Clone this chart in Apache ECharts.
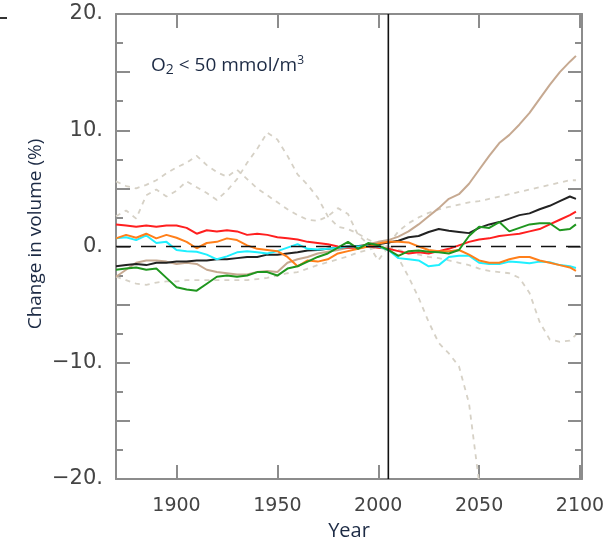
<!DOCTYPE html>
<html>
<head>
<meta charset="utf-8">
<script src="https://cdn.jsdelivr.net/npm/echarts@6/dist/echarts.min.js"></script>
<style>
  html, body { margin: 0; padding: 0; background: #fff; }
  #main { width: 609px; height: 540px; }
</style>
</head>
<body>
<div id="main"></div>
<script>
// Years of the sampled series (historical part ends 2005, projections run on to 2098)
const YEARS = [1870,1875,1880,1885,1890,1895,1900,1905,1910,1915,
               1920,1925,1930,1935,1940,1945,1950,1955,1960,1965,
               1970,1975,1980,1985,1990,1995,2000,2005,
               2010,2015,2020,2025,2030,2035,2040,2045,2050,2055,
               2060,2065,2070,2075,2080,2085,2090,2095,2098];
const HIST_YEARS = YEARS.slice(0, 28);    // 1870 … 2005
const FUTURE_YEARS = YEARS.slice(27);     // 2005 … 2098

// Change in volume (%) of waters with O2 < 50 mmol/m3, per model
const red = [1.9,1.8,1.7,1.8,1.7,1.8,1.8,1.6,1.1,1.4,
             1.3,1.4,1.3,1.0,1.1,1.0,0.8,0.7,0.6,0.4,
             0.3,0.2,0.0,-0.1,-0.1,0.0,-0.1,-0.2,
             -0.4,-0.6,-0.5,-0.6,-0.4,-0.2,0.1,0.4,0.6,0.7,
             0.9,1.0,1.1,1.3,1.5,1.9,2.3,2.7,3.0];
const black = [-1.7,-1.6,-1.5,-1.6,-1.4,-1.4,-1.3,-1.3,-1.2,-1.2,
               -1.1,-1.1,-1.0,-0.9,-0.9,-0.7,-0.7,-0.6,-0.5,-0.35,
               -0.3,-0.2,-0.1,0.0,0.05,0.1,0.2,0.35,
               0.5,0.8,0.9,1.25,1.5,1.35,1.25,1.15,1.6,1.9,
               2.1,2.4,2.7,2.85,3.2,3.5,3.9,4.3,4.1];
const tan = [-2.6,-2.0,-1.4,-1.2,-1.2,-1.3,-1.5,-1.4,-1.5,-2.0,
             -2.2,-2.3,-2.4,-2.4,-2.2,-2.1,-2.2,-1.4,-1.1,-0.9,
             -0.6,-0.45,-0.3,-0.1,0.0,0.2,0.4,0.55,
             0.85,1.3,1.9,2.6,3.3,4.1,4.5,5.4,6.6,7.8,
             8.9,9.6,10.5,11.5,12.7,13.9,15.0,15.9,16.4];
const cyan = [0.7,0.8,0.55,0.95,0.3,0.4,-0.3,-0.4,-0.45,-0.7,
              -1.1,-0.85,-0.5,-0.4,-0.5,-0.6,-0.4,-0.1,0.2,-0.2,
              -0.25,-0.2,-0.1,0.0,0.0,0.05,0.0,-0.3,
              -1.0,-1.1,-1.2,-1.7,-1.6,-0.9,-0.8,-0.8,-1.4,-1.5,
              -1.5,-1.3,-1.35,-1.45,-1.3,-1.35,-1.6,-1.7,-1.85];
const orange = [0.7,1.0,0.75,1.1,0.7,1.0,0.75,0.4,-0.15,0.3,
                0.4,0.7,0.55,0.1,-0.2,-0.3,-0.4,-0.9,-1.7,-1.2,
                -1.3,-1.1,-0.6,-0.4,-0.2,0.0,0.25,0.4,
                0.4,0.35,0.0,-0.3,-0.4,-0.4,-0.3,-0.7,-1.2,-1.4,
                -1.4,-1.1,-0.9,-0.9,-1.2,-1.4,-1.6,-1.8,-2.1];
const green = [-2.0,-1.9,-1.8,-2.0,-1.9,-2.7,-3.5,-3.7,-3.8,-3.2,
               -2.6,-2.5,-2.6,-2.5,-2.2,-2.2,-2.5,-1.9,-1.7,-1.3,
               -0.9,-0.6,-0.1,0.4,-0.2,0.3,0.1,-0.3,
               -0.8,-0.4,-0.35,-0.45,-0.5,-0.6,-0.3,0.9,1.7,1.6,
               2.1,1.3,1.6,1.9,2.0,2.0,1.4,1.5,1.9];

// Other models, drawn as light dashed lines
const histA = [5.6,5.2,5.0,5.3,5.7,6.3,6.8,7.2,7.8,7.0,
               6.4,6.0,6.6,5.8,5.0,4.4,3.8,3.2,2.7,2.3,
               2.2,2.6,3.3,2.8,1.0,0.2,-1.2,0.0];
const histB = [2.6,3.1,2.4,4.4,4.9,4.3,4.8,5.6,5.1,4.6,
               4.0,4.8,5.8,7.2,8.4,9.8,9.2,7.8,6.2,5.3,
               4.2,2.6,1.7,1.5,1.1,0.6,0.2,0.0];
const histC = [-2.6,-2.9,-3.2,-3.3,-3.1,-3.0,-3.0,-2.9,-2.9,-2.9,
               -2.9,-2.9,-2.9,-2.9,-2.8,-2.7,-2.5,-2.3,-2.2,-1.9,
               -1.6,-1.35,-1.1,-0.85,-0.5,-0.3,0.0,0.0];
const projA = [0.2,1.3,2.0,2.5,2.9,3.2,3.4,3.6,3.8,3.9,
               4.1,4.3,4.5,4.7,4.9,5.1,5.3,5.5,5.7,5.7];
const projB = [0.0,-1.0,-2.6,-4.4,-6.5,-8.3,-9.2,-10.3,-13.5,-20.3];
const projC = [0.0,-0.3,-0.5,-0.7,-0.9,-1.0,-1.2,-1.4,-1.6,-1.9,
               -2.1,-2.2,-2.3,-2.7,-4.0,-6.5,-8.0,-8.2,-8.1,-7.6];

// Axis ticks and labels
const X_TICKS = [1900, 1950, 2000, 2050, 2100];
const Y_LABELS = [-20, -10, 0, 10, 20];
const REFERENCE_YEAR = 2005;

function pairs(xs, ys) {
  const out = [];
  for (let i = 0; i < Math.min(xs.length, ys.length); i++) out.push([xs[i], ys[i]]);
  return out;
}

const FRAME = '#8c8c8c';
const GREY_DASH = '#d6d1c6';
const INK = '#1c2a44';

function solid(data, color, z) {
  return {
    type: 'line', data: data, showSymbol: false, symbol: 'none',
    lineStyle: { color: color, width: 2 }, z: z || 3, silent: true
  };
}
function dashed(data) {
  return {
    type: 'line', data: data, showSymbol: false, symbol: 'none',
    lineStyle: { color: GREY_DASH, width: 1.8, type: [5, 5] }, z: 1, silent: true
  };
}

const xBase = {
  type: 'value', min: 1870, max: 2101, gridIndex: 0,
  splitLine: { show: false },
  axisLine: { show: true, onZero: false, lineStyle: { color: FRAME, width: 2 } },
  axisTick: { show: true, inside: true, length: 14, customValues: X_TICKS,
              lineStyle: { color: FRAME, width: 2 } }
};
const yBase = {
  type: 'value', min: -20, max: 20, interval: 5, gridIndex: 0,
  splitLine: { show: false },
  axisLine: { show: true, onZero: false, lineStyle: { color: FRAME, width: 2 } },
  axisTick: { show: true, inside: true, length: 14, lineStyle: { color: FRAME, width: 2 } },
  minorTick: { show: true, splitNumber: 2, length: 7, lineStyle: { color: FRAME, width: 2 } },
  minorSplitLine: { show: false }
};

const chart = echarts.init(document.getElementById('main'), null, { renderer: 'canvas' });
chart.setOption({
  animation: false,
  backgroundColor: '#ffffff',
  grid: { left: 116, top: 14, width: 466, height: 465, containLabel: false, outerBoundsMode: 'none' },
  xAxis: [
    Object.assign({}, xBase, {
      position: 'bottom',
      axisLabel: { show: true, customValues: X_TICKS, margin: 18,
                   color: '#444', fontSize: 19, fontFamily: 'DejaVu Sans',
                   formatter: v => String(v) },
      name: 'Year', nameLocation: 'middle', nameGap: 41,
      nameTextStyle: { color: INK, fontSize: 20, fontFamily: 'Open Sans' }
    }),
    Object.assign({}, xBase, { position: 'top', axisLabel: { show: false } })
  ],
  yAxis: [
    Object.assign({}, yBase, {
      position: 'left',
      axisLabel: { show: true, customValues: Y_LABELS, margin: 13,
                   color: '#444', fontSize: 21, fontFamily: 'DejaVu Sans',
                   formatter: v => (v < 0 ? '\u2212' + Math.abs(v) : String(v)) + '.' }
    }),
    Object.assign({}, yBase, { position: 'right', axisLabel: { show: false } })
  ],
  graphic: [
    {
      // y-axis title
      type: 'text', x: 36, y: 234, rotation: Math.PI / 2,
      style: { text: 'Change in volume (%)', fill: INK, fontSize: 19, fontFamily: 'Open Sans',
               align: 'center', verticalAlign: 'middle' }
    },
    {
      type: 'text', left: 151, top: 55,
      style: {
        text: 'O{sub|2} < 50 mmol/m{sup|3}',
        fill: INK, fontSize: 19, fontFamily: 'Open Sans',
        rich: {
          sub: { fontSize: 14, fontFamily: 'Open Sans', fill: INK, padding: [9, 0, 0, 0] },
          sup: { fontSize: 12, fontFamily: 'Open Sans', fill: INK, padding: [0, 0, 10, 0] }
        }
      }
    },
    { type: 'line', shape: { x1: 0, y1: 18, x2: 7, y2: 18 }, style: { stroke: '#333', lineWidth: 2 } }
  ],
  series: [
    dashed(pairs(HIST_YEARS, histA)),
    dashed(pairs(HIST_YEARS, histB)),
    dashed(pairs(HIST_YEARS, histC)),
    dashed(pairs(FUTURE_YEARS, projA)),
    dashed(pairs(FUTURE_YEARS, projB)),
    dashed(pairs(FUTURE_YEARS, projC)),
    solid(pairs(YEARS, tan), '#c6a991'),
    solid(pairs(YEARS, black), '#222222'),
    solid(pairs(YEARS, red), '#ff1f1f'),
    solid(pairs(YEARS, cyan), '#1ff0ff'),
    solid(pairs(YEARS, orange), '#ff7f1a'),
    solid(pairs(YEARS, green), '#1f961f'),
    {
      // zero reference line
      type: 'line', data: [[1870, 0], [2100, 0]], showSymbol: false, symbol: 'none', z: 6,
      lineStyle: { color: '#111', width: 1.6, type: [15, 10] }, silent: true
    },
    {
      // reference year marker
      type: 'line', data: [[REFERENCE_YEAR, -20], [REFERENCE_YEAR, 20]], showSymbol: false,
      symbol: 'none', z: 7, lineStyle: { color: '#111', width: 1.6 }, silent: true
    }
  ]
});
</script>
</body>
</html>
